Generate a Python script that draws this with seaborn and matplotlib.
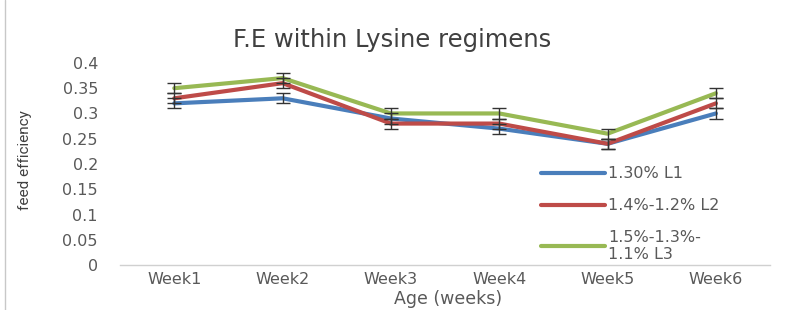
import numpy as np
import pandas as pd
import seaborn as sns
import matplotlib.pyplot as plt

weeks = ["Week1", "Week2", "Week3", "Week4", "Week5", "Week6"]
l1 = [0.32, 0.33, 0.29, 0.27, 0.24, 0.30]
l2 = [0.33, 0.36, 0.28, 0.28, 0.24, 0.32]
l3 = [0.35, 0.37, 0.30, 0.30, 0.26, 0.34]
err = [0.01, 0.01, 0.01, 0.01, 0.01, 0.01]
labels = ["1.30% L1", "1.4%-1.2% L2", "1.5%-1.3%-\n1.1% L3"]
colors = ["#4a7ebb", "#be4b48", "#98b954"]

sns.set_theme(style="white")
plt.rcParams['font.family'] = ['DejaVu Sans']

df = pd.DataFrame({
    "week": weeks * 3,
    "fe": l1 + l2 + l3,
    "group": [labels[0]] * 6 + [labels[1]] * 6 + [labels[2]] * 6,
})
df["x"] = list(range(6)) * 3

fig = plt.figure(figsize=(7.85, 3.10), dpi=100)
ax = fig.add_axes([0.153, 0.145, 0.828, 0.652])

sns.lineplot(data=df, x="x", y="fe", hue="group", palette=colors,
             linewidth=3, ax=ax, legend=True)
for vals in [l1, l2, l3]:
    ax.errorbar(range(6), vals, yerr=err, fmt="none", ecolor="#333333",
                elinewidth=1, capsize=5, capthick=1, zorder=5)

ax.set_xlim(-0.5, 5.5)
ax.set_ylim(0, 0.4)
ax.set_yticks(np.arange(0, 0.41, 0.05))
ax.set_yticklabels(["0", "0.05", "0.1", "0.15", "0.2", "0.25", "0.3", "0.35", "0.4"])
ax.set_xticks(range(6))
ax.set_xticklabels(weeks)
ax.tick_params(axis="both", colors="#595959", labelsize=11.5, length=0)
ax.tick_params(axis="y", pad=16)
ax.tick_params(axis="x", pad=5)
for s in ["top", "right", "left"]:
    ax.spines[s].set_visible(False)
ax.spines["bottom"].set_color("#d0d0d0")
ax.spines["bottom"].set_linewidth(1)

ax.set_xlabel("Age (weeks)", color="#595959", fontsize=12.5)
ax.xaxis.set_label_coords(0.505, -0.125)
ax.set_ylabel("feed efficiency", color="#404040", fontsize=11,
              family=["Liberation Sans Narrow", "Roboto", "DejaVu Sans"])
ax.yaxis.set_label_coords(-0.135, 0.52)
fig.text(0.5, 0.87, "F.E within Lysine regimens", ha="center", va="center",
         fontsize=17.5, color="#404040")

leg = ax.legend(loc="upper left", bbox_to_anchor=(0.638, 0.52), frameon=False,
                handlelength=4.0, handletextpad=0.2, labelspacing=1.05,
                fontsize=11.5, borderaxespad=0)
for t in leg.get_texts():
    t.set_color("#595959")

fig.add_artist(plt.Line2D([0.007, 0.007], [0.0, 1.0], color="#c8c8c8", linewidth=1))

fig.savefig("out.png", dpi=100)
